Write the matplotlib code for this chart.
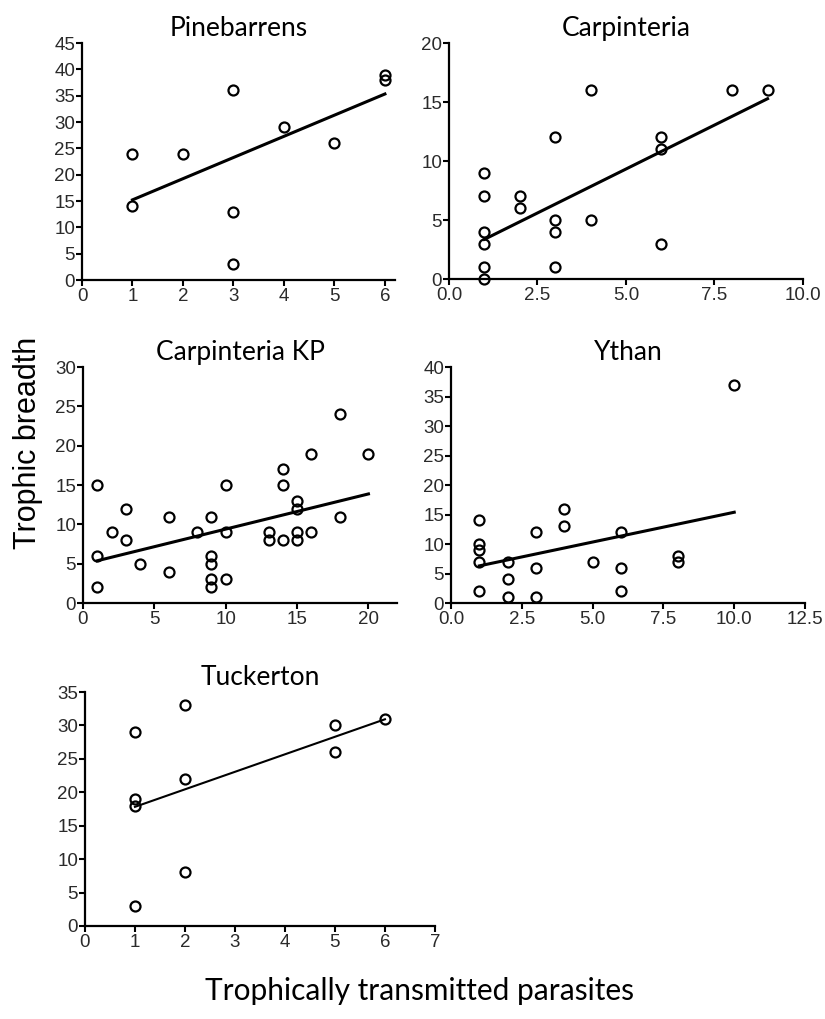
import numpy as np
import matplotlib
matplotlib.use("Agg")
import matplotlib.pyplot as plt

# ---- data ----
pine_x = [1, 1, 2, 3, 3, 3, 4, 5, 6, 6]
pine_y = [24, 14, 24, 36, 13, 3, 29, 26, 39, 38]

carp_x = [1, 1, 1, 1, 1, 1, 2, 2, 3, 3, 3, 3, 4, 4, 6, 6, 6, 8, 9]
carp_y = [9, 7, 4, 3, 1, 0, 7, 6, 12, 5, 4, 1, 16, 5, 12, 11, 3, 16, 16]

kp_x = [1, 1, 1, 2, 3, 3, 4, 6, 6, 8, 9, 9, 9, 9, 9, 10, 10, 10,
        13, 13, 14, 14, 14, 15, 15, 15, 15, 16, 16, 18, 18, 20]
kp_y = [15, 6, 2, 9, 12, 8, 5, 11, 4, 9, 11, 6, 5, 3, 2, 15, 9, 3,
        9, 8, 17, 15, 8, 13, 12, 9, 8, 19, 9, 24, 11, 19]

ythan_x = [1, 1, 1, 1, 1, 2, 2, 2, 3, 3, 3, 4, 4, 5, 6, 6, 6, 8, 8, 10]
ythan_y = [14, 10, 9, 7, 2, 7, 4, 1, 12, 6, 1, 16, 13, 7, 12, 6, 2, 8, 7, 37]

tuck_x = [1, 1, 1, 1, 2, 2, 2, 5, 5, 6]
tuck_y = [29, 19, 18, 3, 33, 22, 8, 30, 26, 31]

# fitted lines as printed (slope, intercept)
fit_slope = [4.02, 1.49, 0.447, 1.01, 2.62]
fit_icept = [11.2, 1.87, 4.93, 5.29, 15.2]

panels = [
    # name, x, y, xlim, xticks, xfmt, ylim, yticks, rect, line width
    ("Pinebarrens", pine_x, pine_y, (0, 6.2), [0, 1, 2, 3, 4, 5, 6], "{:.0f}",
     (0, 45), range(0, 46, 5), [0.0994, 0.7252, 0.3794, 0.2326], 2.2),
    ("Carpinteria", carp_x, carp_y, (0, 10), [0, 2.5, 5, 7.5, 10], "{:.1f}",
     (0, 20), range(0, 21, 5), [0.5442, 0.7262, 0.4291, 0.2316], 2.2),
    ("Carpinteria KP", kp_x, kp_y, (0, 22), [0, 5, 10, 15, 20], "{:.0f}",
     (0, 30), range(0, 31, 5), [0.1006, 0.4082, 0.3806, 0.2316], 2.2),
    ("Ythan", ythan_x, ythan_y, (0, 12.5), [0, 2.5, 5, 7.5, 10, 12.5], "{:.1f}",
     (0, 40), range(0, 41, 5), [0.5467, 0.4082, 0.4291, 0.2316], 2.2),
    ("Tuckerton", tuck_x, tuck_y, (0, 7), [0, 1, 2, 3, 4, 5, 6, 7], "{:.0f}",
     (0, 35), range(0, 36, 5), [0.1030, 0.0913, 0.4242, 0.2296], 1.5),
]

fig = plt.figure(figsize=(8.25, 10.19), dpi=100)

for i, (name, x, y, xl, xt, xfmt, yl, yt, rect, lw) in enumerate(panels):
    ax = fig.add_axes(rect)
    x = np.array(x, dtype=float)
    y = np.array(y, dtype=float)
    ax.plot(x, y, "o", mfc="none", mec="black", ms=7.2, mew=1.6,
            clip_on=False, zorder=3)
    # regression line over the data range
    xs = np.array([x.min(), x.max()])
    ax.plot(xs, fit_slope[i] * xs + fit_icept[i], color="black", lw=lw, zorder=2)

    ax.set_xlim(xl)
    ax.set_ylim(yl)
    ax.set_xticks(xt)
    ax.set_xticklabels([xfmt.format(v) for v in xt], family="Liberation Sans",
                       fontsize=13.5, color="#2a2a2a")
    ax.set_yticks(list(yt))
    ax.set_yticklabels([str(v) for v in yt], family="Liberation Sans",
                       fontsize=13.5, color="#2a2a2a")
    for s in ["top", "right"]:
        ax.spines[s].set_visible(False)
    for s in ["left", "bottom"]:
        ax.spines[s].set_linewidth(1.6)
    ax.tick_params(direction="out", length=4, width=1.5)
    ax.tick_params(axis="x", pad=2)
    ax.tick_params(axis="y", pad=1)
    ax.set_title(name, fontsize=19, family="Lato", pad=5)

fig.text(0.034, 0.565, "Trophic breadth", rotation=90, ha="center",
         va="center", fontsize=22, family="Liberation Sans")
fig.text(0.509, 0.027, "Trophically transmitted parasites", ha="center",
         va="center", fontsize=21.5, family="Lato")

fig.savefig("out.png", dpi=100)
